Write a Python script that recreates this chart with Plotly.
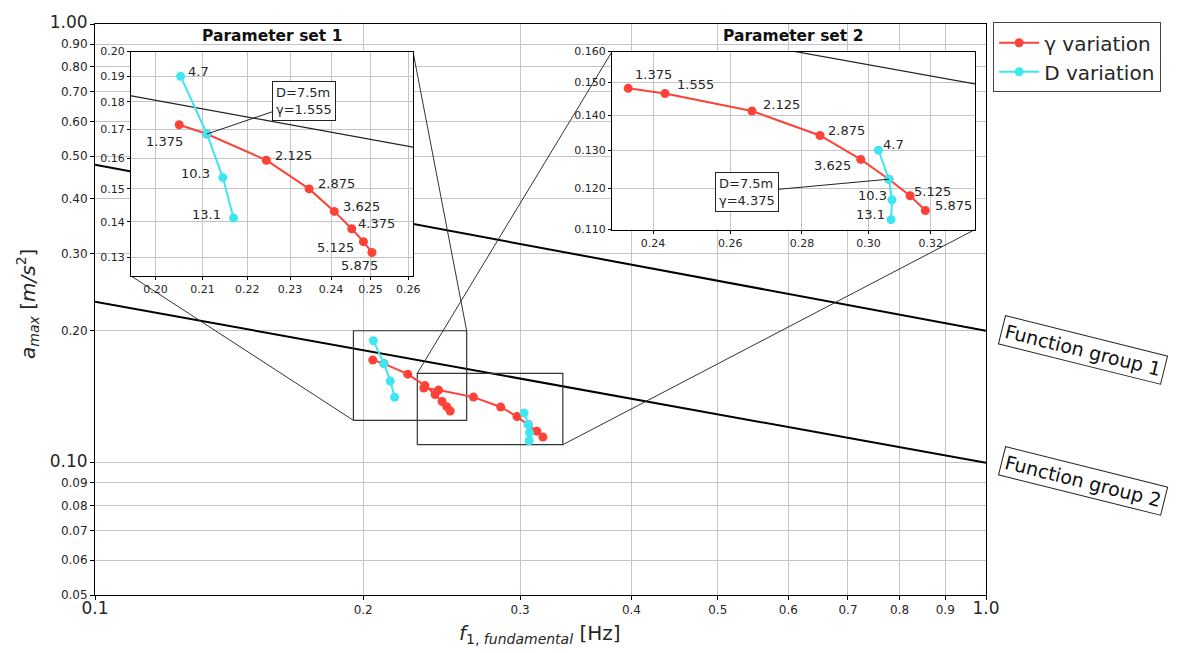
import numpy as np
import plotly.graph_objects as go

# ---------------------------------------------------------------------------
# Data
# ---------------------------------------------------------------------------
gamma_values = [1.375, 1.555, 2.125, 2.875, 3.625, 4.375, 5.125, 5.875]
depth_values = [4.7, 7.5, 10.3, 13.1]

# Parameter set 1: fundamental frequency [Hz] and peak acceleration [m/s^2]
set1_gamma_f = [0.2050, 0.2110, 0.2244, 0.2346, 0.2408, 0.2452, 0.2482, 0.2504]
set1_gamma_a = [0.1716, 0.1683, 0.1593, 0.1500, 0.1431, 0.1380, 0.1343, 0.1313]
set1_depth_f = [0.2053, 0.2110, 0.2145, 0.2169]
set1_depth_a = [0.1899, 0.1683, 0.1536, 0.1411]

# Parameter set 2
set2_gamma_f = [0.2339, 0.2430, 0.2659, 0.2853, 0.2976, 0.3064, 0.3132, 0.3182]
set2_gamma_a = [0.1481, 0.1465, 0.1412, 0.1341, 0.1275, 0.1223, 0.1181, 0.1145]
set2_depth_f = [0.3031, 0.3064, 0.3074, 0.3071]
set2_depth_a = [0.1300, 0.1223, 0.1171, 0.1123]

# Function group limit curves (straight in log-log), values at f = 0.1 and 1.0
fg_f = [0.1, 1.0]
fg1_a = [0.478, 0.20]
fg2_a = [0.233, 0.10]

# Axis tick values
main_xticks = [0.1, 0.2, 0.3, 0.4, 0.5, 0.6, 0.7, 0.8, 0.9, 1.0]
main_yticks = [0.05, 0.06, 0.07, 0.08, 0.09, 0.10, 0.20, 0.30, 0.40, 0.50,
               0.60, 0.70, 0.80, 0.90, 1.00]
inset1_xticks = [0.20, 0.21, 0.22, 0.23, 0.24, 0.25, 0.26]
inset1_yticks = [0.13, 0.14, 0.15, 0.16, 0.17, 0.18, 0.19, 0.20]
inset2_xticks = [0.24, 0.26, 0.28, 0.30, 0.32]
inset2_yticks = [0.110, 0.120, 0.130, 0.140, 0.150, 0.160]

# Axis ranges
main_x = [0.1, 1.0]
main_y = [0.05, 1.0]
inset1_x = [0.195, 0.2613]
inset1_y = [0.125, 0.20]
inset2_x = [0.23, 0.335]
inset2_y = [0.11, 0.16]

# ---------------------------------------------------------------------------
# Styling
# ---------------------------------------------------------------------------
FONT = "DejaVu Sans"
RED = "#ff4238"
CYAN = "#3ee6f2"
GRID = "#c4c4c4"
TXT = "#262626"

W, H = 1189, 653
M_L, M_R, M_T, M_B = 95, 203, 17, 58

inset1_dom_x = [0.0404, 0.3569]
inset1_dom_y = [0.5588, 0.9516]
inset2_dom_x = [0.5802, 0.9877]
inset2_dom_y = [0.6401, 0.9516]

fig = go.Figure()


def paper_to_main(px, py):
    """Convert a paper-fraction position to main-axes data coordinates."""
    lx0, lx1 = np.log10(main_x)
    ly0, ly1 = np.log10(main_y)
    return 10 ** (lx0 + px * (lx1 - lx0)), 10 ** (ly0 + py * (ly1 - ly0))


def add_series(xa, ya, sets, show_legend):
    for k, (f, a) in enumerate(s[0] for s in sets):
        fig.add_trace(go.Scatter(
            x=f, y=a, mode="lines+markers", xaxis=xa, yaxis=ya,
            line=dict(color=RED, width=2), marker=dict(color=RED, size=9),
            name="γ variation", legendgroup="g",
            showlegend=show_legend and k == 0))
    for k, (f, a) in enumerate(s[1] for s in sets):
        fig.add_trace(go.Scatter(
            x=f, y=a, mode="lines+markers", xaxis=xa, yaxis=ya,
            line=dict(color=CYAN, width=2), marker=dict(color=CYAN, size=9),
            name="D variation", legendgroup="d",
            showlegend=show_legend and k == 0))


set1 = ((set1_gamma_f, set1_gamma_a), (set1_depth_f, set1_depth_a))
set2 = ((set2_gamma_f, set2_gamma_a), (set2_depth_f, set2_depth_a))

# Function group limit lines (main axes + in the insets)
for fa in (fg1_a, fg2_a):
    fig.add_trace(go.Scatter(x=fg_f, y=fa, mode="lines", xaxis="x", yaxis="y",
                             line=dict(color="black", width=2),
                             showlegend=False, hoverinfo="skip"))
for xa, ya in (("x2", "y2"), ("x3", "y3")):
    for fa in (fg1_a, fg2_a):
        fig.add_trace(go.Scatter(x=fg_f, y=fa, mode="lines", xaxis=xa, yaxis=ya,
                                 line=dict(color="#222", width=1.2),
                                 showlegend=False, hoverinfo="skip"))

# Zoom rectangles and connector lines on the main axes
for (xr, yr, dx, dy, corners) in (
        (inset1_x, inset1_y, inset1_dom_x, inset1_dom_y, [(0, 0), (1, 1)]),
        (inset2_x, inset2_y, inset2_dom_x, inset2_dom_y, [(0, 1), (1, 0)])):
    fig.add_trace(go.Scatter(
        x=[xr[0], xr[1], xr[1], xr[0], xr[0]],
        y=[yr[0], yr[0], yr[1], yr[1], yr[0]],
        mode="lines", line=dict(color="#333", width=1.2),
        showlegend=False, hoverinfo="skip"))
    for cx, cy in corners:
        ix, iy = paper_to_main(dx[cx], dy[cy])
        fig.add_trace(go.Scatter(
            x=[xr[cx], ix], y=[yr[cy], iy], mode="lines",
            line=dict(color="#333", width=1), showlegend=False, hoverinfo="skip"))

add_series("x", "y", (set1, set2), True)
add_series("x2", "y2", (set1,), False)
add_series("x3", "y3", (set2,), False)


# ---------------------------------------------------------------------------
# Axes
# ---------------------------------------------------------------------------
def tick_text(vals, fmt, big):
    out = []
    for v in vals:
        s = fmt.format(v)
        size = 17 if any(abs(v - b) < 1e-9 for b in big) else 12
        out.append('<span style="font-size:%dpx">%s</span>' % (size, s))
    return out


axis_common = dict(type="log", showgrid=True, gridcolor=GRID, gridwidth=1,
                   showline=True, linecolor="black", linewidth=1, mirror=True,
                   ticks="outside", ticklen=4, tickcolor="black", zeroline=False,
                   tickfont=dict(family=FONT, color=TXT, size=12))

fig.update_layout(
    xaxis=dict(axis_common, domain=[0, 1], anchor="y",
               range=list(np.log10(main_x)), tickvals=main_xticks,
               ticktext=tick_text(main_xticks, "{:.1f}", [0.1, 1.0])),
    yaxis=dict(axis_common, domain=[0, 1], anchor="x",
               range=list(np.log10(main_y)), tickvals=main_yticks,
               ticktext=tick_text(main_yticks, "{:.2f}", [0.1, 1.0])),
)

inset_tickfont = dict(family=FONT, color=TXT, size=11)
for idx, (xr, yr, dx, dy, xt, yt, yfmt) in enumerate((
        (inset1_x, inset1_y, inset1_dom_x, inset1_dom_y, inset1_xticks, inset1_yticks, "{:.2f}"),
        (inset2_x, inset2_y, inset2_dom_x, inset2_dom_y, inset2_xticks, inset2_yticks, "{:.3f}")),
        start=2):
    fig.update_layout({
        "xaxis%d" % idx: dict(axis_common, domain=dx, anchor="y%d" % idx,
                              range=list(np.log10(xr)), tickvals=xt,
                              ticktext=["{:.2f}".format(v) for v in xt],
                              tickfont=inset_tickfont, ticklen=3),
        "yaxis%d" % idx: dict(axis_common, domain=dy, anchor="x%d" % idx,
                              range=list(np.log10(yr)), tickvals=yt,
                              ticktext=[yfmt.format(v) for v in yt],
                              tickfont=inset_tickfont, ticklen=3),
    })

# ---------------------------------------------------------------------------
# Annotations
# ---------------------------------------------------------------------------
ann = []
lab_font = dict(family=FONT, size=13, color=TXT)

# value labels: (pixel shift right, pixel shift down) per point; None = no label
set1_gamma_shift = [(-15, 17), None, (27, -5), (27, -5), (27, -5), (25, -5), (-28, 6), (-12, 13)]
set1_depth_shift = [(18, -5), None, (-27, -4), (-27, -4)]
set2_gamma_shift = [(25, -14), (30, -9), (30, -6), (27, -5), (-28, 6), None, (22, -4), (28, -5)]
set2_depth_shift = [(15, -6), None, (-20, -4), (-21, -5)]

for xa, ya, fvals, avals, labels, shifts in (
        ("x2", "y2", set1_gamma_f, set1_gamma_a, gamma_values, set1_gamma_shift),
        ("x2", "y2", set1_depth_f, set1_depth_a, depth_values, set1_depth_shift),
        ("x3", "y3", set2_gamma_f, set2_gamma_a, gamma_values, set2_gamma_shift),
        ("x3", "y3", set2_depth_f, set2_depth_a, depth_values, set2_depth_shift)):
    for f, a, lab, sh in zip(fvals, avals, labels, shifts):
        if sh is None:
            continue
        ann.append(dict(x=np.log10(f), y=np.log10(a), xref=xa, yref=ya,
                        text="{:g}".format(lab), showarrow=False, font=lab_font,
                        xanchor="center", yanchor="middle",
                        xshift=sh[0], yshift=-sh[1]))

# Callouts for the reference configuration
for xa, ya, f, a, g, axp, ayp in (
        ("x2", "y2", set1_depth_f[1], set1_depth_a[1], gamma_values[1], 97, -33),
        ("x3", "y3", set2_depth_f[1], set2_depth_a[1], gamma_values[5], -142, 13)):
    ann.append(dict(x=np.log10(f), y=np.log10(a), xref=xa, yref=ya,
                    text="D=%gm<br>γ=%g" % (depth_values[1], g), align="left",
                    showarrow=True, arrowhead=0, arrowwidth=1, arrowcolor="#222",
                    ax=axp, ay=ayp, font=lab_font, bgcolor="white",
                    bordercolor="#222", borderwidth=1, borderpad=3))

# Inset titles
for dx, dy, title in ((inset1_dom_x, inset1_dom_y, "Parameter set 1"),
                      (inset2_dom_x, inset2_dom_y, "Parameter set 2")):
    ann.append(dict(x=(dx[0] + dx[1]) / 2, y=dy[1], xref="paper", yref="paper",
                    xanchor="center", yanchor="bottom", yshift=5, showarrow=False,
                    text="<b>%s</b>" % title,
                    font=dict(family=FONT, size=15.5, color="#111")))

# Function group labels
for ypos, txt in ((0.429, "Function group 1"), (0.199, "Function group 2")):
    ann.append(dict(x=1.109, y=ypos, xref="paper", yref="paper", showarrow=False,
                    xanchor="center", yanchor="middle",
                    text=txt, textangle=14, font=dict(family=FONT, size=19, color="#111"),
                    bgcolor="white", bordercolor="#222", borderwidth=1, borderpad=3))

# Axis titles
ann.append(dict(x=-0.075, y=0.51, xref="paper", yref="paper", showarrow=False,
                xanchor="center", yanchor="middle", textangle=-90,
                text="<i>a</i><sub><i>max</i></sub> [<i>m/s</i><sup>2</sup>]",
                font=dict(family=FONT, size=20, color=TXT)))
ann.append(dict(x=0.499, y=-0.069, xref="paper", yref="paper", showarrow=False,
                xanchor="center", yanchor="middle",
                text="<i>f</i><sub>1, <i>fundamental</i></sub> [Hz]",
                font=dict(family=FONT, size=20, color=TXT)))

fig.update_layout(
    width=W, height=H,
    margin=dict(l=M_L, r=M_R, t=M_T, b=M_B),
    paper_bgcolor="white", plot_bgcolor="white",
    font=dict(family=FONT, color=TXT),
    annotations=ann,
    legend=dict(x=1.008, y=1.003, xanchor="left", yanchor="top",
                bgcolor="white", bordercolor="#444", borderwidth=1,
                font=dict(family=FONT, size=20, color=TXT),
                itemwidth=40, tracegroupgap=0),
)

fig.write_html("out.html")
